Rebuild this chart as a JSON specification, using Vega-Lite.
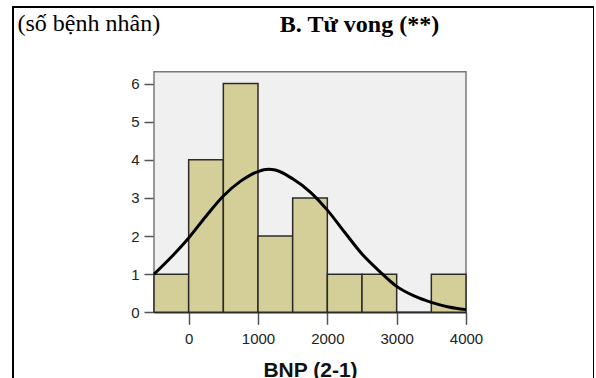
{
  "$schema": "https://vega.github.io/schema/vega-lite/v6.json",
  "autosize": {"type": "none"},
  "padding": {"left": 13, "top": 7, "right": 0, "bottom": 0},
  "width": 581,
  "height": 420,
  "background": "white",
  "title": {
    "text": "B. Tử vong (**)",
    "font": "Liberation Serif",
    "fontSize": 24,
    "fontWeight": "bold",
    "color": "black",
    "anchor": "middle",
    "frame": "group",
    "baseline": "alphabetic",
    "offset": 0,
    "dx": 56,
    "dy": 49
  },
  "datasets": {
    "bins": [
      {"lo": -500, "hi": 0, "n": 1},
      {"lo": 0, "hi": 500, "n": 4},
      {"lo": 500, "hi": 1000, "n": 6},
      {"lo": 1000, "hi": 1500, "n": 2},
      {"lo": 1500, "hi": 2000, "n": 3},
      {"lo": 2000, "hi": 2500, "n": 1},
      {"lo": 2500, "hi": 3000, "n": 1},
      {"lo": 3000, "hi": 3500, "n": 0},
      {"lo": 3500, "hi": 4000, "n": 1}
    ],
    "curve": [
      {"bnp": -500, "density": 1.0},
      {"bnp": -250, "density": 1.45},
      {"bnp": 0, "density": 1.95},
      {"bnp": 250, "density": 2.52},
      {"bnp": 500, "density": 3.05},
      {"bnp": 750, "density": 3.44},
      {"bnp": 1000, "density": 3.69},
      {"bnp": 1150, "density": 3.75},
      {"bnp": 1250, "density": 3.73},
      {"bnp": 1500, "density": 3.5},
      {"bnp": 1750, "density": 3.16},
      {"bnp": 2000, "density": 2.68},
      {"bnp": 2250, "density": 2.1},
      {"bnp": 2500, "density": 1.53},
      {"bnp": 2750, "density": 1.08},
      {"bnp": 3000, "density": 0.68},
      {"bnp": 3250, "density": 0.43},
      {"bnp": 3500, "density": 0.26},
      {"bnp": 3750, "density": 0.14},
      {"bnp": 4000, "density": 0.07}
    ]
  },
  "layer": [
    {
      "data": {"values": [{}]},
      "mark": {"type": "rect", "fill": "#F0F0F0", "stroke": "#7a7a7a", "strokeWidth": 1.5},
      "encoding": {
        "x": {"datum": -500, "type": "quantitative", "scale": {"domain": [-500, 4000], "range": [141, 453], "nice": false, "zero": false}},
        "x2": {"datum": 4000},
        "y": {"datum": 0, "type": "quantitative", "scale": {"domain": [0, 6.31], "range": [305.3, 64.7], "nice": false}},
        "y2": {"datum": 6.31}
      }
    },
    {
      "data": {"name": "bins"},
      "mark": {"type": "rect", "fill": "#D4CF98", "stroke": "#2b2b2b", "strokeWidth": 1.5},
      "encoding": {
        "x": {"field": "lo", "type": "quantitative", "title": "BNP (2-1)"},
        "x2": {"field": "hi"},
        "y": {"field": "n", "type": "quantitative", "title": "(số bệnh nhân)"},
        "y2": {"datum": 0}
      }
    },
    {
      "data": {"name": "curve"},
      "mark": {"type": "line", "color": "black", "strokeWidth": 3, "interpolate": "monotone"},
      "encoding": {
        "x": {"field": "bnp", "type": "quantitative", "title": "BNP (2-1)",
          "axis": {
            "values": [0, 1000, 2000, 3000, 4000],
            "format": "d",
            "offset": -114.7,
            "grid": false,
            "domain": true,
            "domainColor": "#333333",
            "domainWidth": 1.5,
            "tickColor": "#555555",
            "tickWidth": 1.5,
            "tickSize": 12,
            "labelPadding": 7,
            "labelFont": "Liberation Sans",
            "labelFontSize": 15,
            "labelColor": "#222222",
            "labelFlush": false,
            "titleFont": "Liberation Sans",
            "titleFontSize": 21,
            "titleFontWeight": "bold",
            "titleColor": "#111111",
            "titleBaseline": "alphabetic",
            "titleY": 64.5
          }
        },
        "y": {"field": "density", "type": "quantitative", "title": "(số bệnh nhân)",
          "axis": {
            "values": [0, 1, 2, 3, 4, 5, 6],
            "format": "d",
            "offset": -141,
            "grid": false,
            "domain": false,
            "tickColor": "#555555",
            "tickWidth": 1.5,
            "tickSize": 10,
            "labelPadding": 5,
            "labelFont": "Liberation Sans",
            "labelFontSize": 15,
            "labelColor": "#222222",
            "titleAngle": 0,
            "titleAlign": "left",
            "titleBaseline": "alphabetic",
            "titleX": -137,
            "titleY": 23,
            "titleFont": "Liberation Serif",
            "titleFontSize": 24,
            "titleFontWeight": "normal",
            "titleColor": "black"
          }
        }
      }
    }
  ],
  "config": {
    "view": {"stroke": "black", "strokeWidth": 2, "fill": null}
  }
}
